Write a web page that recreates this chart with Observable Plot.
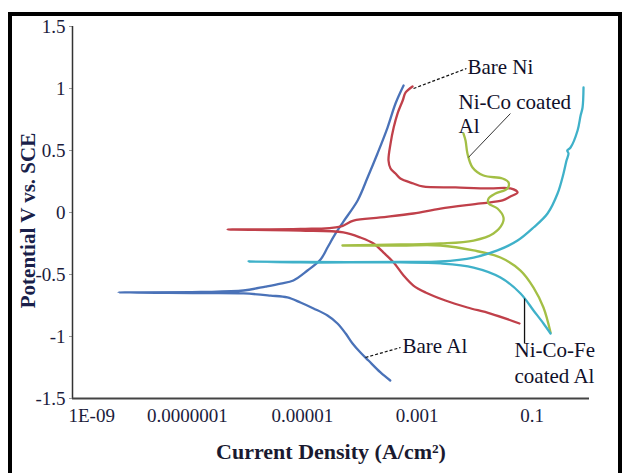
<!DOCTYPE html>
<html><head><meta charset="utf-8">
<script src="https://cdn.jsdelivr.net/npm/d3@7"></script>
<script src="https://cdn.jsdelivr.net/npm/@observablehq/plot@0.6"></script>
<style>
html,body{margin:0;padding:0;background:#fff;overflow:hidden;}
#wrap{position:relative;width:622px;height:473px;}
#border{position:absolute;left:8px;top:12px;width:606px;height:480px;border:4px solid #000;pointer-events:none;}
</style></head><body>
<div id="wrap"><div id="chart"></div><div id="border"></div></div>
<script>
// Axis ticks
const xTicks = [1e-9, 1e-7, 1e-5, 1e-3, 0.1];
const xTickLabels = ["1E-09", "0.0000001", "0.00001", "0.001", "0.1"];
const yTicks = [-1.5, -1, -0.5, 0, 0.5, 1, 1.5];
const yTickLabels = ["-1.5", "-1", "-0.5", "0", "0.5", "1", "1.5"];

// Series: current density (A/cm2) and potential (V vs SCE)
const bareAlI = [3.4e-4, 2.3e-4, 1.42e-4, 1.03e-4, 7.5e-5, 5.7e-5, 4.1e-5, 2.75e-5, 1.57e-5, 9.3e-6, 5.5e-6, 2.8e-6, 9.5e-7, 1.7e-7, 6.3e-9, 1.7e-7, 9.5e-7, 2.3e-6, 4.2e-6, 7.0e-6, 1.23e-5, 2.08e-5, 2.75e-5, 3.8e-5, 5.2e-5, 9.2e-5, 1.37e-4, 2.04e-4, 3.05e-4, 4.2e-4, 5.8e-4];
const bareAlE = [-1.355, -1.29, -1.194, -1.129, -1.056, -0.976, -0.895, -0.831, -0.774, -0.726, -0.685, -0.67, -0.653, -0.65, -0.645, -0.641, -0.629, -0.597, -0.573, -0.548, -0.468, -0.379, -0.282, -0.169, -0.073, 0.097, 0.282, 0.476, 0.685, 0.879, 1.024];

const bareNiI = [6.05e-2, 1.89e-2, 7.5e-3, 3.1e-3, 1.4e-3, 8.6e-4, 5.8e-4, 3.9e-4, 2.6e-4, 1.74e-4, 1.03e-4, 5.2e-5, 9.3e-6, 5.0e-7, 9.3e-6, 4.6e-5, 7.8e-5, 2.3e-4, 8.6e-4, 2.55e-3, 1.27e-2, 3.06e-2, 4.2e-2, 5.6e-2, 4.2e-2, 1.82e-2, 4.66e-3, 1.24e-3, 8.6e-4, 5.1e-4, 4.2e-4, 3.44e-4, 3.17e-4, 3.44e-4, 3.9e-4, 4.55e-4, 5.6e-4, 6.3e-4, 8.3e-4];
const bareNiE = [-0.895, -0.815, -0.766, -0.71, -0.645, -0.589, -0.508, -0.403, -0.323, -0.25, -0.202, -0.161, -0.145, -0.137, -0.133, -0.113, -0.065, -0.04, -0.008, 0.032, 0.073, 0.097, 0.129, 0.161, 0.194, 0.194, 0.202, 0.21, 0.234, 0.274, 0.315, 0.355, 0.419, 0.556, 0.685, 0.798, 0.903, 0.968, 1.016];

const niCoI = [0.21, 0.158, 0.106, 6.3e-2, 2.82e-2, 9.6e-3, 2.55e-3, 5.1e-4, 5.0e-5, 5.1e-4, 2.55e-3, 9.6e-3, 2.13e-2, 3.06e-2, 3.18e-2, 2.5e-2, 1.75e-2, 1.75e-2, 2.31e-2, 3.74e-2, 3.9e-2, 3.06e-2, 1.43e-2, 9.2e-3, 7.5e-3, 6.95e-3, 6.4e-3];
const niCoE = [-0.968, -0.766, -0.605, -0.468, -0.363, -0.306, -0.266, -0.266, -0.266, -0.258, -0.25, -0.226, -0.169, -0.089, -0.04, 0.032, 0.073, 0.113, 0.153, 0.194, 0.242, 0.274, 0.298, 0.363, 0.476, 0.581, 0.637];

const niCoFeI = [0.21, 0.158, 0.106, 6.3e-2, 2.82e-2, 9.6e-3, 2.55e-3, 5.1e-4, 9.3e-6, 1.16e-6, 9.3e-6, 5.1e-4, 2.55e-3, 9.6e-3, 2.5e-2, 5.6e-2, 0.106, 0.186, 0.278, 0.353, 0.398, 0.431, 0.41, 0.468, 0.62, 0.70, 0.757, 0.787];
const niCoFeE = [-0.976, -0.895, -0.79, -0.653, -0.524, -0.444, -0.411, -0.403, -0.403, -0.395, -0.399, -0.399, -0.395, -0.363, -0.306, -0.226, -0.121, -0.008, 0.153, 0.315, 0.419, 0.476, 0.5, 0.524, 0.661, 0.782, 0.847, 1.008];

const seriesNames = ["Bare Al", "Bare Ni", "Ni-Co coated Al", "Ni-Co-Fe coated Al"];
const seriesColors = ["#4a72b8", "#c0404a", "#a3bf45", "#3fb1c9"];

// Annotations
const annoText = ["Bare Ni", "Ni-Co coated", "Al", "Bare Al", "Ni-Co-Fe", "coated Al"];
const annoI = [7.5e-3, 5.25e-3, 5.25e-3, 5.56e-4, 4.95e-2, 4.95e-2];
const annoE = [1.113, 0.831, 0.645, -1.137, -1.169, -1.371];

// Leader lines (Bare Ni, Ni-Co, Bare Al, Ni-Co-Fe)
const leadI1 = [8.65e-4, 4.2e-2, 1.26e-4, 7.4e-2];
const leadE1 = [1.0, 0.798, -1.169, -0.694];
const leadI2 = [7.2e-3, 7.8e-3, 5.13e-4, 7.4e-2];
const leadE2 = [1.161, 0.444, -1.089, -1.056];

const seriesI = [bareAlI, bareNiI, niCoI, niCoFeI];
const seriesE = [bareAlE, bareNiE, niCoE, niCoFeE];
const table = seriesNames.flatMap((name, k) =>
  seriesI[k].map((v, i) => ({series: name, I: v, E: seriesE[k][i]})));

const annos = annoText.map((t, i) => ({t, I: annoI[i], E: annoE[i]}));
const leads = leadI1.map((v, i) => ({x1: v, y1: leadE1[i], x2: leadI2[i], y2: leadE2[i], i}));
const xLabel = new Map(xTicks.map((v, i) => [v, xTickLabels[i]]));
const yLabel = new Map(yTicks.map((v, i) => [v, yTickLabels[i]]));

const ink = "#1c1c3c";

const chart = Plot.plot({
  width: 622,
  height: 473,
  marginLeft: 72,
  marginRight: 33,
  marginTop: 26,
  marginBottom: 75,
  style: {fontFamily: "'Liberation Serif', 'Times New Roman', serif", fontSize: "19px", color: ink, background: "#fff"},
  x: {type: "log", domain: [1e-9, 1], axis: null},
  y: {domain: [-1.5, 1.5], axis: null},
  color: {domain: seriesNames, range: seriesColors},
  marks: [
    Plot.axisY({ticks: yTicks, tickFormat: d => yLabel.get(d), tickSize: 3, tickPadding: 4, stroke: "#9a9a9a", label: null}),
    Plot.text(xTicks.slice(1), {x: d => d, text: d => xLabel.get(d), frameAnchor: "bottom", dy: 10, lineAnchor: "top", textAnchor: "middle", fontSize: 19, fill: ink}),
    Plot.text(xTicks.slice(0, 1), {x: d => d, text: d => xLabel.get(d), frameAnchor: "bottom", dy: 10, dx: -4, lineAnchor: "top", textAnchor: "start", fontSize: 19, fill: ink}),
    Plot.ruleX([1e-9], {stroke: "#333", strokeWidth: 1.5}),
    Plot.ruleY([-1.5], {stroke: "#444", strokeWidth: 2}),
    Plot.line(table, {x: "I", y: "E", z: "series", stroke: "series", strokeWidth: 2.3, curve: "catmull-rom"}),
    Plot.link(leads.filter(d => d.i === 0 || d.i === 2), {x1: "x1", y1: "y1", x2: "x2", y2: "y2", stroke: "#111", strokeWidth: 1.2, strokeDasharray: "3,2"}),
    Plot.link(leads.filter(d => d.i === 1), {x1: "x1", y1: "y1", x2: "x2", y2: "y2", stroke: "#333", strokeWidth: 1}),
    Plot.link(leads.filter(d => d.i === 3), {x1: "x1", y1: "y1", x2: "x2", y2: "y2", stroke: "#111", strokeWidth: 1.3}),
    Plot.text(annos, {x: "I", y: "E", text: "t", textAnchor: "start", lineAnchor: "bottom", fontSize: 21, fill: "#10102a"}),
    Plot.text(["Current Density (A/cm²)"], {frameAnchor: "bottom", dy: 60, lineAnchor: "bottom", textAnchor: "middle", fontSize: 22, fontWeight: "bold", fill: "#1a1a30"}),
    Plot.text(["Potential V vs. SCE"], {frameAnchor: "left", dx: -44, dy: 8, rotate: -90, lineAnchor: "middle", textAnchor: "middle", fontSize: 21, fontWeight: "bold", fill: "#1a1f4a"})
  ]
});
document.getElementById("chart").appendChild(chart);
</script></body></html>
